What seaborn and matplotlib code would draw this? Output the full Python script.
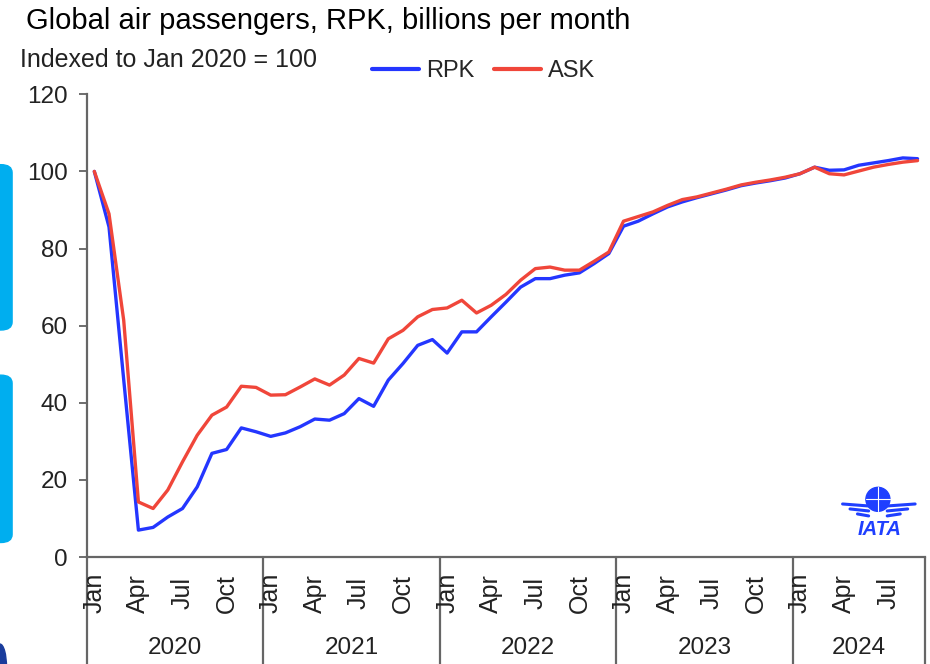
import matplotlib
matplotlib.use("Agg")
import matplotlib.pyplot as plt
import matplotlib.patches as mpatches
import matplotlib.transforms as mtransforms
import seaborn as sns
import pandas as pd

# monthly index, Jan 2020 = 100 (Jan 2020 .. Sep 2024)
years = ["2020", "2021", "2022", "2023", "2024"]
months_per_year = [12, 12, 12, 12, 9]
month_names = ["Jan", "Feb", "Mar", "Apr", "May", "Jun",
               "Jul", "Aug", "Sep", "Oct", "Nov", "Dec"]
shown_months = ["Jan", "Apr", "Jul", "Oct"]

rpk = [100, 85.6, 46.0, 7.0, 7.7, 10.4, 12.6, 18.2, 26.9, 27.9, 33.5, 32.5,
       31.3, 32.2, 33.8, 35.8, 35.5, 37.2, 41.1, 39.1, 45.9, 50.2, 54.9, 56.4,
       52.9, 58.4, 58.4, 62.3, 66.1, 70.0, 72.2, 72.2, 73.1, 73.7, 76.1, 78.7,
       85.8, 87.1, 89.0, 90.8, 92.1, 93.2, 94.2, 95.2, 96.3, 97.0, 97.6, 98.3,
       99.4, 101.1, 100.3, 100.4, 101.6, 102.2, 102.8, 103.5, 103.3]
ask = [100, 89.0, 61.4, 14.3, 12.6, 17.4, 24.7, 31.6, 36.8, 38.9, 44.3, 44.0,
       42.0, 42.1, 44.1, 46.2, 44.6, 47.2, 51.5, 50.3, 56.6, 58.8, 62.3, 64.2,
       64.6, 66.6, 63.3, 65.3, 68.1, 71.8, 74.8, 75.2, 74.4, 74.4, 76.7, 79.1,
       87.1, 88.3, 89.5, 91.2, 92.7, 93.4, 94.4, 95.4, 96.5, 97.2, 97.8, 98.5,
       99.4, 101.1, 99.4, 99.1, 100.1, 101.1, 101.8, 102.4, 102.8]

n = len(rpk)
idx = list(range(n))
df = pd.DataFrame({
    "i": idx * 2,
    "value": rpk + ask,
    "series": ["RPK"] * n + ["ASK"] * n,
})

sns.set_style("white")
plt.rcParams["font.family"] = ["Liberation Sans", "DejaVu Sans"]

fig = plt.figure(figsize=(9.3, 6.64), dpi=100)
ax = fig.add_axes([0.0935, 0.161, 0.901, 0.697])

sns.lineplot(data=df, x="i", y="value", hue="series",
             palette={"RPK": "#2436ff", "ASK": "#f0463a"},
             linewidth=2.4, ax=ax, legend=False)
for ln in ax.lines:
    ln.set_solid_joinstyle("round")
    ln.set_solid_capstyle("round")

ax.set_xlim(-0.5, n - 0.5)
ax.set_ylim(0, 120)
ax.set_yticks(range(0, 121, 20))
ax.tick_params(axis="y", length=6, width=1.2, color="#555555",
               labelsize=17.5, labelcolor="#222222", pad=8, left=True)
ax.set_xticks([])
ax.set_xlabel("")
ax.set_ylabel("")
for s in ["top", "right"]:
    ax.spines[s].set_visible(False)
for s in ["left", "bottom"]:
    ax.spines[s].set_color("#666666")
    ax.spines[s].set_linewidth(1.6)

# month labels and year dividers under the axis
trans = mtransforms.blended_transform_factory(ax.transData, ax.transAxes)
start = 0
bounds = [-0.5]
for yr, cnt in zip(years, months_per_year):
    for m in range(cnt):
        if month_names[m] in shown_months:
            ax.text(start + m, -0.078, month_names[m], rotation=90,
                    ha="center", va="center", fontsize=18,
                    color="#222222", transform=trans)
    ax.text(start + (cnt - 1) / 2, -0.197, yr, ha="center", va="center",
            fontsize=17.5, color="#222222", transform=trans)
    start += cnt
    bounds.append(start - 0.5)
for b in bounds:
    ax.plot([b, b], [0, -0.24], color="#666666", lw=1.6,
            transform=trans, clip_on=False)

# legend
handles = [plt.Line2D([], [], color="#2436ff", lw=3),
           plt.Line2D([], [], color="#f0463a", lw=3)]
fig.legend(handles, ["RPK", "ASK"], loc="center", ncol=2,
           bbox_to_anchor=(0.52, 0.893), frameon=False, fontsize=17,
           handlelength=2.0, handletextpad=0.3, columnspacing=0.8)

# titles
fig.text(0.028, 0.968, "Global air passengers, RPK, billions per month",
         fontsize=21, ha="left", va="center", color="black")
fig.text(0.022, 0.91, "Indexed to Jan 2020 = 100",
         fontsize=18, ha="left", va="center", color="#222222")

# IATA mark
blue = "#1f3fff"
fig.text(0.946, 0.203, "IATA", fontsize=14.5, fontweight="bold",
         fontstyle="italic", color=blue, ha="center", va="center")
fig.patches.append(mpatches.Ellipse((0.944, 0.248), 0.0258, 0.0361,
                                    transform=fig.transFigure,
                                    color=blue, zorder=5))
fig.lines.append(plt.Line2D([0.944, 0.944], [0.230, 0.266],
                            transform=fig.transFigure, color="white",
                            lw=0.8, zorder=6))
fig.lines.append(plt.Line2D([0.931, 0.957], [0.248, 0.248],
                            transform=fig.transFigure, color="white",
                            lw=0.8, zorder=6))
for k, y in enumerate([0.241, 0.2335, 0.226]):
    fig.lines.append(plt.Line2D([0.906 + 0.008 * k, 0.934], [y, y - 0.003],
                                transform=fig.transFigure,
                                color=blue, lw=2.2))
    fig.lines.append(plt.Line2D([0.954, 0.984 - 0.008 * k], [y - 0.003, y],
                                transform=fig.transFigure,
                                color=blue, lw=2.2))

# slide decorations on the left edge
for y0, y1 in [(0.503, 0.752), (0.183, 0.435)]:
    fig.patches.append(mpatches.FancyBboxPatch(
        (-0.03, y0), 0.043, y1 - y0,
        boxstyle="round,pad=0,rounding_size=0.012",
        transform=fig.transFigure, color="#00aeef", zorder=0))
fig.patches.append(mpatches.Ellipse((0.0, -0.005), 0.014, 0.07,
                                    transform=fig.transFigure,
                                    color="#1a3c9c", zorder=0))

fig.savefig("out.png", dpi=100)
